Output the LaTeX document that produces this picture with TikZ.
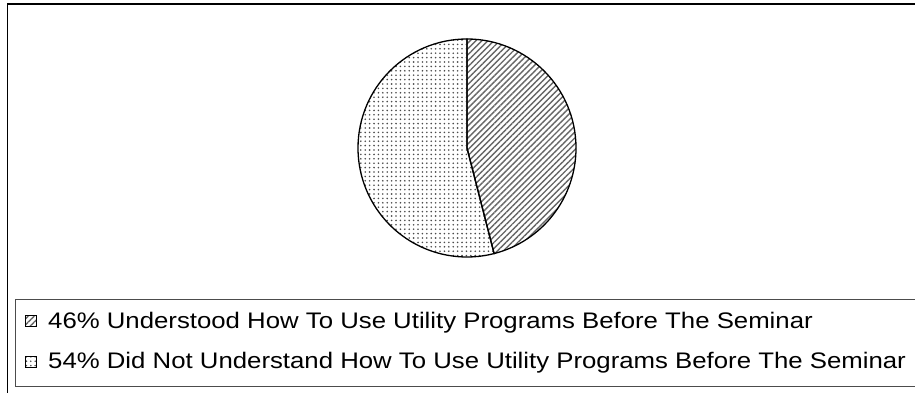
\documentclass[tikz,border=0pt]{standalone}
\usepackage{fontspec}
\setmainfont{Liberation Sans}
\newfontfamily\keyfont[FakeStretch=1.145]{Liberation Sans}
\usetikzlibrary{patterns.meta}

\tikzset{
  hatchfill/.style={pattern={Lines[angle=45,distance=4.2pt,line width=1.4pt]},pattern color=black!60},
  dotfill/.style={pattern={Dots[distance=4.4pt,radius=0.9pt]},pattern color=black!70},
  keytext/.style={anchor=base west,inner sep=0pt,font=\keyfont\fontsize{22.5}{26}\selectfont}
}

\begin{document}
\begin{tikzpicture}[x=1pt,y=1pt]
\useasboundingbox (0,0) rectangle (915,392);
% outer frame
\draw [line width=1.6pt] (917,388) -- (7.5,388) -- (7.5,-2);
% pie
\coordinate (ctr) at (467,244);
\draw [hatchfill,line width=1.3pt] (ctr) -- ++(90:109) arc (90:-75.6:109) -- cycle;
\draw [dotfill,line width=1.3pt] (ctr) -- ++(90:109) arc (90:284.4:109) -- cycle;
% legend
\draw [black!70,line width=1pt] (917,93) -- (15,93) -- (15,6) -- (917,6);
\node [keytext] (k1) at (48,64) {46\% Understood How To Use Utility Programs Before The Seminar};
\node [keytext] (k2) at (48,24) {54\% Did Not Understand How To Use Utility Programs Before The Seminar};
\draw [hatchfill,line width=1pt] (25.5,65.5) rectangle (36.5,76.5);
\draw [dotfill,line width=1pt] (25.5,24.5) rectangle (36.5,35.5);
\end{tikzpicture}
\end{document}
